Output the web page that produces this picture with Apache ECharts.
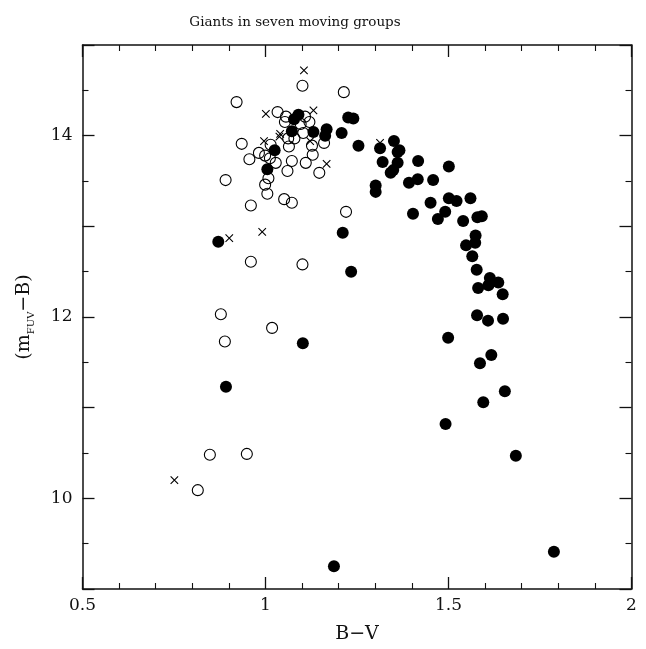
<!DOCTYPE html>
<html>
<head>
<meta charset="utf-8">
<script src="https://cdn.jsdelivr.net/npm/echarts@6/dist/echarts.min.js"></script>
<style>
  html, body { margin: 0; padding: 0; background: #fff; }
  #chart { width: 646px; height: 649px; }
</style>
</head>
<body>
<div id="chart"></div>
<script>
// B-V colour and (m_FUV - B) for giants, three membership classes

// filled circles
const filledStars = [
  [1.090, 14.23], [1.078, 14.18], [1.226, 14.20], [1.240, 14.19], [1.072, 14.05],
  [1.131, 14.04], [1.167, 14.07], [1.163, 14.00], [1.208, 14.03], [1.254, 13.89],
  [1.025, 13.84], [1.005, 13.63], [1.313, 13.86], [1.351, 13.94], [1.366, 13.84],
  [1.361, 13.82], [1.320, 13.71], [1.361, 13.70], [1.349, 13.62], [1.342, 13.59],
  [1.417, 13.72], [1.501, 13.66], [1.392, 13.48], [1.416, 13.52], [1.458, 13.51],
  [1.301, 13.45], [1.301, 13.38], [1.501, 13.31], [1.522, 13.28], [1.560, 13.31],
  [1.451, 13.26], [1.491, 13.16], [1.471, 13.08], [1.540, 13.06], [1.403, 13.14],
  [1.579, 13.10], [1.591, 13.11], [1.211, 12.93], [1.574, 12.90], [1.548, 12.79],
  [1.573, 12.82], [1.565, 12.67], [1.577, 12.52], [1.613, 12.43], [1.636, 12.38],
  [1.609, 12.35], [1.581, 12.32], [1.648, 12.25], [1.578, 12.02], [1.608, 11.96],
  [1.649, 11.98], [1.499, 11.77], [1.617, 11.58], [1.586, 11.49], [1.654, 11.18],
  [1.595, 11.06], [1.492, 10.82], [1.684, 10.47], [0.871, 12.83], [1.234, 12.50],
  [1.102, 11.71], [0.892, 11.23], [1.187, 9.25], [1.788, 9.41]
];

// open circles
const openStars = [
  [1.101, 14.55], [1.214, 14.48], [0.921, 14.37], [1.033, 14.26], [1.056, 14.21],
  [1.053, 14.15], [1.108, 14.21], [1.120, 14.15], [1.096, 14.13], [0.935, 13.91],
  [1.062, 13.97], [1.079, 13.97], [1.103, 14.03], [1.160, 13.92], [1.127, 13.89],
  [1.129, 13.79], [1.064, 13.88], [1.014, 13.90], [0.982, 13.81], [0.999, 13.78],
  [1.012, 13.75], [0.956, 13.74], [1.028, 13.70], [1.072, 13.72], [1.110, 13.70],
  [1.147, 13.59], [1.060, 13.61], [1.008, 13.53], [0.891, 13.51], [0.999, 13.46],
  [1.005, 13.36], [0.960, 13.23], [1.051, 13.30], [1.072, 13.26], [1.220, 13.16],
  [0.960, 12.61], [1.101, 12.58], [0.878, 12.03], [0.889, 11.73], [1.018, 11.88],
  [0.848, 10.48], [0.949, 10.49], [0.815, 10.09]
];

// crosses
const crossStars = [
  [1.105, 14.72], [1.001, 14.24], [1.131, 14.28], [1.040, 14.02], [1.038, 13.99],
  [0.996, 13.94], [1.122, 13.94], [1.167, 13.69], [0.991, 12.94], [0.901, 12.87],
  [0.751, 10.20], [1.313, 13.92]
];

const titleText = 'Giants in seven moving groups';
const xName = 'B\u2212V';
const xMin = 0.5, xMax = 2, xStep = 0.5;
const yMin = 9, yMax = 15, yStep = 2;

const serif = '"DejaVu Serif", "Liberation Serif", serif';
const ink = '#111';

function axisBase(extra) {
  return Object.assign({
    type: 'value',
    axisLine: { show: true, onZero: false, lineStyle: { color: ink, width: 1.5 } },
    axisTick: { show: true, inside: true, length: 12, lineStyle: { color: ink, width: 1.3 } },
    minorTick: { show: true, splitNumber: 5, length: 6, lineStyle: { color: ink, width: 1.1 } },
    splitLine: { show: false },
    axisLabel: { show: true, color: ink, fontFamily: serif, fontSize: 17 }
  }, extra);
}

const chart = echarts.init(document.getElementById('chart'), null, { renderer: 'canvas' });

chart.setOption({
  animation: false,
  backgroundColor: '#fff',
  title: {
    text: titleText,
    left: 290,
    top: 10,
    textAlign: 'center',
    textStyle: { fontFamily: serif, fontSize: 13.5, fontWeight: 'normal', color: ink }
  },
  grid: { left: 82.5, right: 14.5, top: 45, bottom: 56.5 },
  xAxis: [
    axisBase({
      min: xMin, max: xMax, interval: xStep, position: 'bottom',
      name: xName, nameLocation: 'middle', nameGap: 36,
      nameTextStyle: { fontFamily: serif, fontSize: 19, color: ink },
      axisLabel: {
        show: true, color: ink, fontFamily: serif, fontSize: 17, margin: 8,
        formatter: v => String(v)
      }
    }),
    axisBase({
      min: xMin, max: xMax, interval: xStep, position: 'top',
      axisLabel: { show: false }
    })
  ],
  yAxis: [
    axisBase({
      min: yMin, max: yMax, interval: 1, position: 'left',
      minorTick: { show: true, splitNumber: 2, length: 6, lineStyle: { color: ink, width: 1.1 } },
      axisLabel: {
        show: true, color: ink, fontFamily: serif, fontSize: 17, margin: 10,
        formatter: v => (v % yStep === 0 ? String(v) : '')
      },
      name: '{p|(m}{s|FUV}{p|\u2212B)}',
      nameLocation: 'middle', nameGap: 46, nameRotate: 90,
      nameTextStyle: {
        rich: {
          p: { fontFamily: serif, fontSize: 19, color: ink, lineHeight: 24, verticalAlign: 'middle' },
          s: { fontFamily: serif, fontSize: 10, color: ink, lineHeight: 24, verticalAlign: 'bottom', padding: [8, 0, 0, 0] }
        }
      }
    }),
    axisBase({
      min: yMin, max: yMax, interval: 1, position: 'right',
      minorTick: { show: true, splitNumber: 2, length: 6, lineStyle: { color: ink, width: 1.1 } },
      axisLabel: { show: false }
    })
  ],
  series: [
    {
      type: 'scatter', name: 'open', data: openStars,
      symbol: 'circle', symbolSize: 11,
      itemStyle: { color: 'rgba(0,0,0,0)', borderColor: '#000', borderWidth: 1.1, opacity: 1 },
      z: 2
    },
    {
      type: 'scatter', name: 'filled', data: filledStars,
      symbol: 'circle', symbolSize: 12,
      itemStyle: { color: '#000', borderWidth: 0, opacity: 1 },
      z: 3
    },
    {
      type: 'scatter', name: 'cross', data: crossStars,
      symbol: 'path://M0,0L10,10M10,0L0,10', symbolSize: 7.5,
      itemStyle: { color: 'none', borderColor: '#000', borderWidth: 1.1, opacity: 1 },
      z: 4
    }
  ]
});
</script>
</body>
</html>
